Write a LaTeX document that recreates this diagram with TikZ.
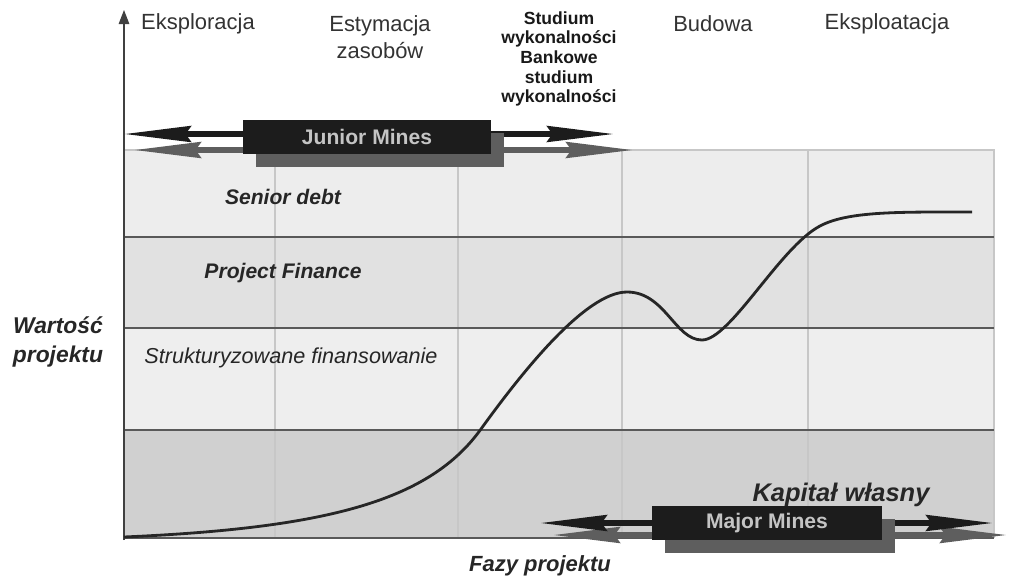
\documentclass[tikz,border=0pt]{standalone}
\usepackage{fontspec}
\setmainfont{Liberation Sans}
\usepackage{xcolor}
\usetikzlibrary{arrows.meta,positioning}

\definecolor{bandA}{HTML}{EDEDED}
\definecolor{bandB}{HTML}{E1E1E1}
\definecolor{bandC}{HTML}{EEEEEE}
\definecolor{bandD}{HTML}{D0D0D0}
\definecolor{boxdark}{HTML}{1C1C1C}
\definecolor{boxshade}{HTML}{5E5E5E}
\definecolor{boxtext}{HTML}{C4C4C4}

\begin{document}
\begin{tikzpicture}[x=0.02cm,y=-0.02cm]
\tikzstyle{phase}=[align=center, text=black!80, font=\fontsize{12.5}{15}\selectfont]
\tikzstyle{layer}=[text=black!85, font=\fontsize{12}{14}\selectfont\bfseries\itshape]
\tikzstyle{axislabel}=[align=center, text=black!85, font=\fontsize{13}{16}\selectfont\bfseries\itshape]
\tikzstyle{minesbox}=[fill=boxdark, text=boxtext, minimum height=0.68cm, font=\fontsize{12}{14}\selectfont\bfseries]
\tikzstyle{shadebox}=[fill=boxshade, minimum height=0.68cm]
\tikzstyle{bigarrow}=[line width=3.2pt, {Stealth[length=38pt,width=9pt,inset=3pt]}-{Stealth[length=38pt,width=9pt,inset=3pt]}]
\tikzstyle{bandline}=[draw=black!65, line width=0.8pt]
\tikzstyle{gridline}=[draw=black!22, line width=0.6pt]

\useasboundingbox (0,0) rectangle (1009,579);

% warstwy finansowania
\fill[bandA] (124,150) rectangle (994,237);
\fill[bandB] (124,237) rectangle (994,328);
\fill[bandC] (124,328) rectangle (994,430);
\fill[bandD] (124,430) rectangle (994,538);
\foreach \gx in {275,458,622,808}
  \draw[gridline] (\gx,150) -- (\gx,538);
\draw[gridline] (124,150) -- (994,150) -- (994,538);
\foreach \gy in {237,328,430,538}
  \draw[bandline] (124,\gy) -- (994,\gy);

% os wartosci
\coordinate (a0) at (124,540);
\coordinate (a1) at (124,10);
\draw[black!75, line width=0.7pt, -{Triangle[length=8pt,width=6pt]}] (a0) -- (a1);

% krzywa wartosci projektu
\draw[black!85, line width=1.6pt] (124,537)
  .. controls (330,528) and (430,500) .. (481,429)
  .. controls (520,375) and (585,292) .. (627,292)
  .. controls (665,292) and (675,340) .. (702,340)
  .. controls (730,340) and (780,247) .. (820,226)
  .. controls (848,211) and (900,212) .. (972,212);

% fazy
\node[phase] (eks) at (198,24) {Eksploracja};
\node[phase] (est) at (380,37) {Estymacja\\zasobów};
\node[phase, font=\fontsize{10}{11.2}\selectfont\bfseries, text=black!90] (stud) at (559,59) {Studium\\wykonalności\\Bankowe\\studium\\wykonalności};
\node[phase] (bud) at (713,24) {Budowa};
\node[phase] (expl) at (887,24) {Eksploatacja};

% nazwy warstw
\node[layer] (sen) at (283,197) {Senior debt};
\node[layer] (pf) at (283,273) {Project Finance};
\node[layer, font=\fontsize{12.3}{14}\selectfont\itshape] (struk) at (291,358) {Strukturyzowane finansowanie};
\node[layer, font=\fontsize{14.5}{17}\selectfont\bfseries\itshape] (kap) at (841,495) {Kapitał własny};

\node[axislabel] (wart) at (58,342) {Wartość\\projektu};
\node[axislabel, font=\fontsize{12.5}{15}\selectfont\bfseries\itshape] (fazy) at (540,566) {Fazy projektu};

% Junior Mines
\coordinate (js0) at (134,150);
\coordinate (js1) at (633,150);
\coordinate (j0) at (124,134);
\coordinate (j1) at (614,134);
\draw[bigarrow, boxshade] (js0) -- (js1);
\draw[bigarrow, boxdark] (j0) -- (j1);
\node[shadebox, minimum width=4.96cm] (jshade) at (380,150) {};
\node[minesbox, minimum width=4.96cm] (junior) at (367,137) {Junior Mines};

% Major Mines
\coordinate (ms0) at (553,535);
\coordinate (ms1) at (1007,535);
\coordinate (m0) at (540,523);
\coordinate (m1) at (993,523);
\draw[bigarrow, boxshade] (ms0) -- (ms1);
\draw[bigarrow, boxdark] (m0) -- (m1);
\node[shadebox, minimum width=4.6cm] (mshade) at (780,536) {};
\node[minesbox, minimum width=4.6cm] (major) at (767,523) {Major Mines};

\end{tikzpicture}
\end{document}
